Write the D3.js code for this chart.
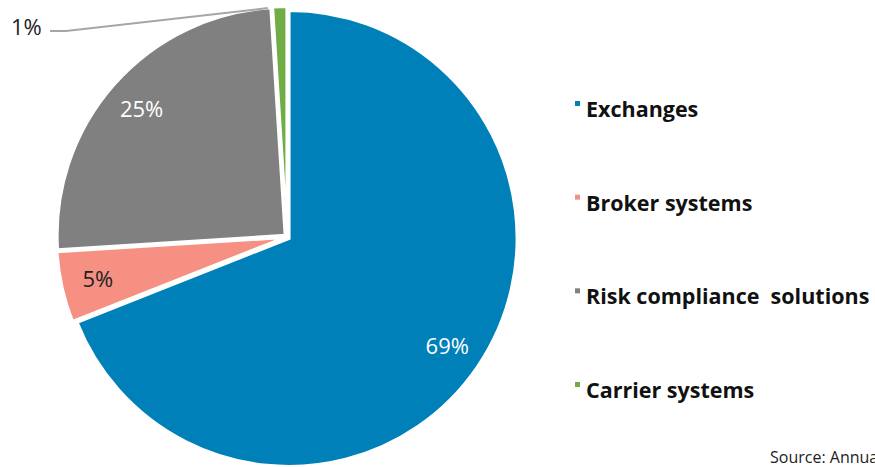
<!DOCTYPE html>
<html lang="en">
<head>
<meta charset="utf-8">
<title>Revenue split</title>
<script src="https://d3js.org/d3.v7.min.js"></script>
<style>
  body { margin: 0; background: #fff; }
  svg text { font-family: "Open Sans", "Noto Sans", sans-serif; }
</style>
</head>
<body>
<script>
// data
var categories = ["Exchanges", "Broker systems", "Risk compliance  solutions", "Carrier systems"];
var shares = [69, 5, 25, 1];
var labels = ["69%", "5%", "25%", "1%"];
var colors = ["#0080b8", "#f59083", "#808080", "#70ad47"];

var w = 875, h = 467;
var cx = 287, cy = 237, r = 228;

var svg = d3.select("body").append("svg")
  .attr("width", w)
  .attr("height", h);

var pie = d3.pie().sort(null).value(function (d) { return d; });
var arcs = pie(shares);
var arc = d3.arc().innerRadius(0).outerRadius(r);

// tiny explode for each slice
var explode = 2.5;

var g = svg.append("g").attr("transform", "translate(" + cx + "," + cy + ")");

g.selectAll("path")
  .data(arcs)
  .enter()
  .append("path")
  .attr("d", arc)
  .attr("fill", function (d, i) { return colors[i]; })
  .attr("stroke", "#fff")
  .attr("stroke-width", 3)
  .attr("stroke-linejoin", "miter")
  .attr("transform", function (d) {
    var a = (d.startAngle + d.endAngle) / 2;
    return "translate(" + (Math.sin(a) * explode) + "," + (-Math.cos(a) * explode) + ")";
  });

// slice labels
var labelArc = d3.arc().innerRadius(r * 0.85).outerRadius(r * 0.85);
var textColors = ["#fff", "#222", "#fff", "#222"];

g.selectAll("text.pct")
  .data(arcs.slice(0, 3))
  .enter()
  .append("text")
  .attr("class", "pct")
  .attr("x", function (d) { return labelArc.centroid(d)[0]; })
  .attr("y", function (d) { return labelArc.centroid(d)[1]; })
  .attr("dy", "0.35em")
  .attr("text-anchor", "middle")
  .attr("font-size", 22)
  .attr("fill", function (d, i) { return textColors[i]; })
  .text(function (d, i) { return labels[i]; });

// 1% label with leader line
var small = arcs[3];
var sa = (small.startAngle + small.endAngle) / 2;
var edge = [Math.sin(sa) * (r + 1) - 12, -Math.cos(sa) * (r + 1)];
g.append("polyline")
  .attr("points", [[50 - cx, 31 - cy], [66 - cx, 31 - cy], edge].join(" "))
  .attr("fill", "none")
  .attr("stroke", "#a6a6a6")
  .attr("stroke-width", 2);

svg.append("text")
  .attr("x", 11)
  .attr("y", 35)
  .attr("font-size", 22)
  .attr("fill", "#222")
  .text(labels[3]);

// legend
var legend = svg.append("g").attr("transform", "translate(575,0)");
var ly = d3.scalePoint().domain(categories).range([110, 391]);

legend.selectAll("rect")
  .data(categories)
  .enter()
  .append("rect")
  .attr("x", 0)
  .attr("y", function (d) { return ly(d) - 9; })
  .attr("width", 5)
  .attr("height", 5)
  .attr("fill", function (d, i) { return colors[i]; });

legend.selectAll("text")
  .data(categories)
  .enter()
  .append("text")
  .attr("x", 11)
  .attr("y", function (d) { return ly(d) + 7; })
  .attr("font-size", 21.5)
  .attr("font-weight", "bold")
  .attr("fill", "#111")
  .attr("xml:space", "preserve")
  .style("white-space", "pre")
  .text(function (d) { return d; });

// source (runs off the right edge, as in the original)
svg.append("text")
  .attr("x", 770)
  .attr("y", 463)
  .attr("font-size", 16)
  .attr("fill", "#222")
  .text("Source: Annual reports");
</script>
</body>
</html>
